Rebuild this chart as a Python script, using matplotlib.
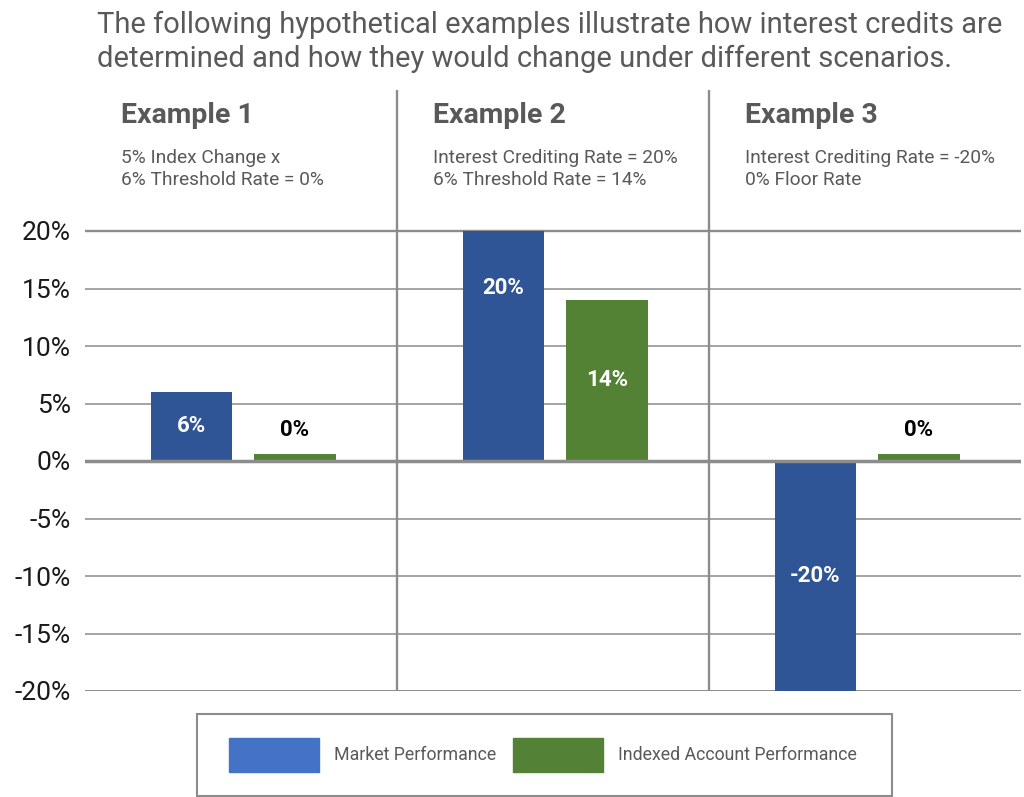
import matplotlib
matplotlib.use("Agg")
import matplotlib.pyplot as plt
import matplotlib.patches as mpatches
import numpy as np

plt.rcParams['font.family'] = ['Roboto', 'DejaVu Sans']

# ---- data ----
examples = ["Example 1", "Example 2", "Example 3"]
subtitles = [
    ["5% Index Change x", "6% Threshold Rate = 0%"],
    ["Interest Crediting Rate = 20%", "6% Threshold Rate = 14%"],
    ["Interest Crediting Rate = -20%", "0% Floor Rate"],
]
market = [6, 20, -20]
indexed = [0, 14, 0]
market_labels = ["6%", "20%", "-20%"]
indexed_labels = ["0%", "14%", "0%"]
yticks = [-20, -15, -10, -5, 0, 5, 10, 15, 20]
ytick_labels = ["-20%", "-15%", "-10%", "-5%", "0%", "5%", "10%", "15%", "20%"]
title = ("The following hypothetical examples illustrate how interest credits are\n"
         "determined and how they would change under different scenarios.")
legend_names = ["Market Performance", "Indexed Account Performance"]

# ---- style ----
BAR_BLUE = "#2F5597"
BAR_GREEN = "#548235"
LEG_BLUE = "#4472C4"
LEG_GREEN = "#538135"
GRID = "#8c8c8c"
TXT = "#595959"
MIN_VIS = 0.6  # minimum visible height for zero-valued bars

W, H = 1024, 797
fig = plt.figure(figsize=(W / 100, H / 100), dpi=100)
ax_left, ax_right = 85 / W, 1021 / W
ax_bottom, ax_top = (H - 691) / H, (H - 90) / H
ax = fig.add_axes([ax_left, ax_bottom, ax_right - ax_left, ax_top - ax_bottom])

ymin, ymax = -20, 20 + (231 - 90) / 11.5
ax.set_xlim(-0.5, 2.5)
ax.set_ylim(ymin, ymax)
for s in ax.spines.values():
    s.set_visible(False)

x = np.arange(len(examples))
bw = 0.26
off_m, off_i = -0.16, 0.173

mvals = np.array(market, dtype=float)
ivals = np.array(indexed, dtype=float)
m_draw = np.where(mvals == 0, MIN_VIS, mvals)
i_draw = np.where(ivals == 0, MIN_VIS, ivals)

# gridlines
for t in yticks:
    if t == 0:
        continue
    lw = 1.1
    if t == 20:
        lw = 1.7
    if t == -20:
        lw = 2.1
    ax.axhline(t, color=GRID, lw=lw, zorder=1)
ax.axhline(0, color=GRID, lw=2.5, zorder=4)

# dividers
for d in [0.5, 1.5]:
    ax.axvline(d, ymin=0, ymax=1, color=GRID, lw=1.7, zorder=1)

ax.bar(x + off_m, m_draw, width=bw, color=BAR_BLUE, zorder=3)
ax.bar(x + off_i, i_draw, width=bw, color=BAR_GREEN, zorder=3)

# bar labels
m_label_frac = [0.5, 0.75, 0.5]
for xi, v, lab, fr in zip(x, mvals, market_labels, m_label_frac):
    ax.text(xi + off_m, v * fr, lab, ha="center", va="center", color="white",
            fontsize=16, fontweight="bold", zorder=5)
for xi, v, lab in zip(x, ivals, indexed_labels):
    if v == 0:
        ax.text(xi + off_i, 2.7, lab, ha="center", va="center", color="black",
                fontsize=16, fontweight="bold", zorder=5)
    else:
        ax.text(xi + off_i, v * 0.5, lab, ha="center", va="center", color="white",
                fontsize=16, fontweight="bold", zorder=5)

# y ticks
ax.set_yticks(yticks)
ax.set_yticklabels(ytick_labels)
ax.tick_params(axis="y", length=0, pad=10, labelsize=19, labelcolor="#1a1a1a")
ax.set_xticks([])

# example headers
def py(pix):
    return 20 + (231 - pix) / 11.5

for xi, name, subs in zip(x, examples, subtitles):
    ax.text(xi - 0.385, py(123), name, ha="left", va="baseline", color=TXT,
            fontsize=20.5, fontweight="bold", clip_on=False)
    for k, line in enumerate(subs):
        ax.text(xi - 0.385, py(163 + 22 * k), line, ha="left", va="baseline",
                color=TXT, fontsize=13.8, clip_on=False)

# title
fig.text(97 / W, 1 - 33 / H, title.split("\n")[0], ha="left", va="baseline",
         color=TXT, fontsize=21)
fig.text(97 / W, 1 - 67 / H, title.split("\n")[1], ha="left", va="baseline",
         color=TXT, fontsize=21)

# legend frame
fig.patches.append(mpatches.Rectangle((197 / W, (H - 796) / H), (892 - 197) / W, 82 / H,
                                      transform=fig.transFigure, fill=False,
                                      edgecolor=GRID, lw=1.5))
handles = [mpatches.Patch(color=LEG_BLUE, label=legend_names[0]),
           mpatches.Patch(color=LEG_GREEN, label=legend_names[1])]
fig.legend(handles=handles, loc="center", bbox_to_anchor=(543 / W, 1 - 755 / H),
           ncol=2, frameon=False, fontsize=12.8, handlelength=5.1, handleheight=2.6,
           handletextpad=0.85, columnspacing=0.9, labelcolor=TXT)

fig.savefig("out.png", dpi=100)
